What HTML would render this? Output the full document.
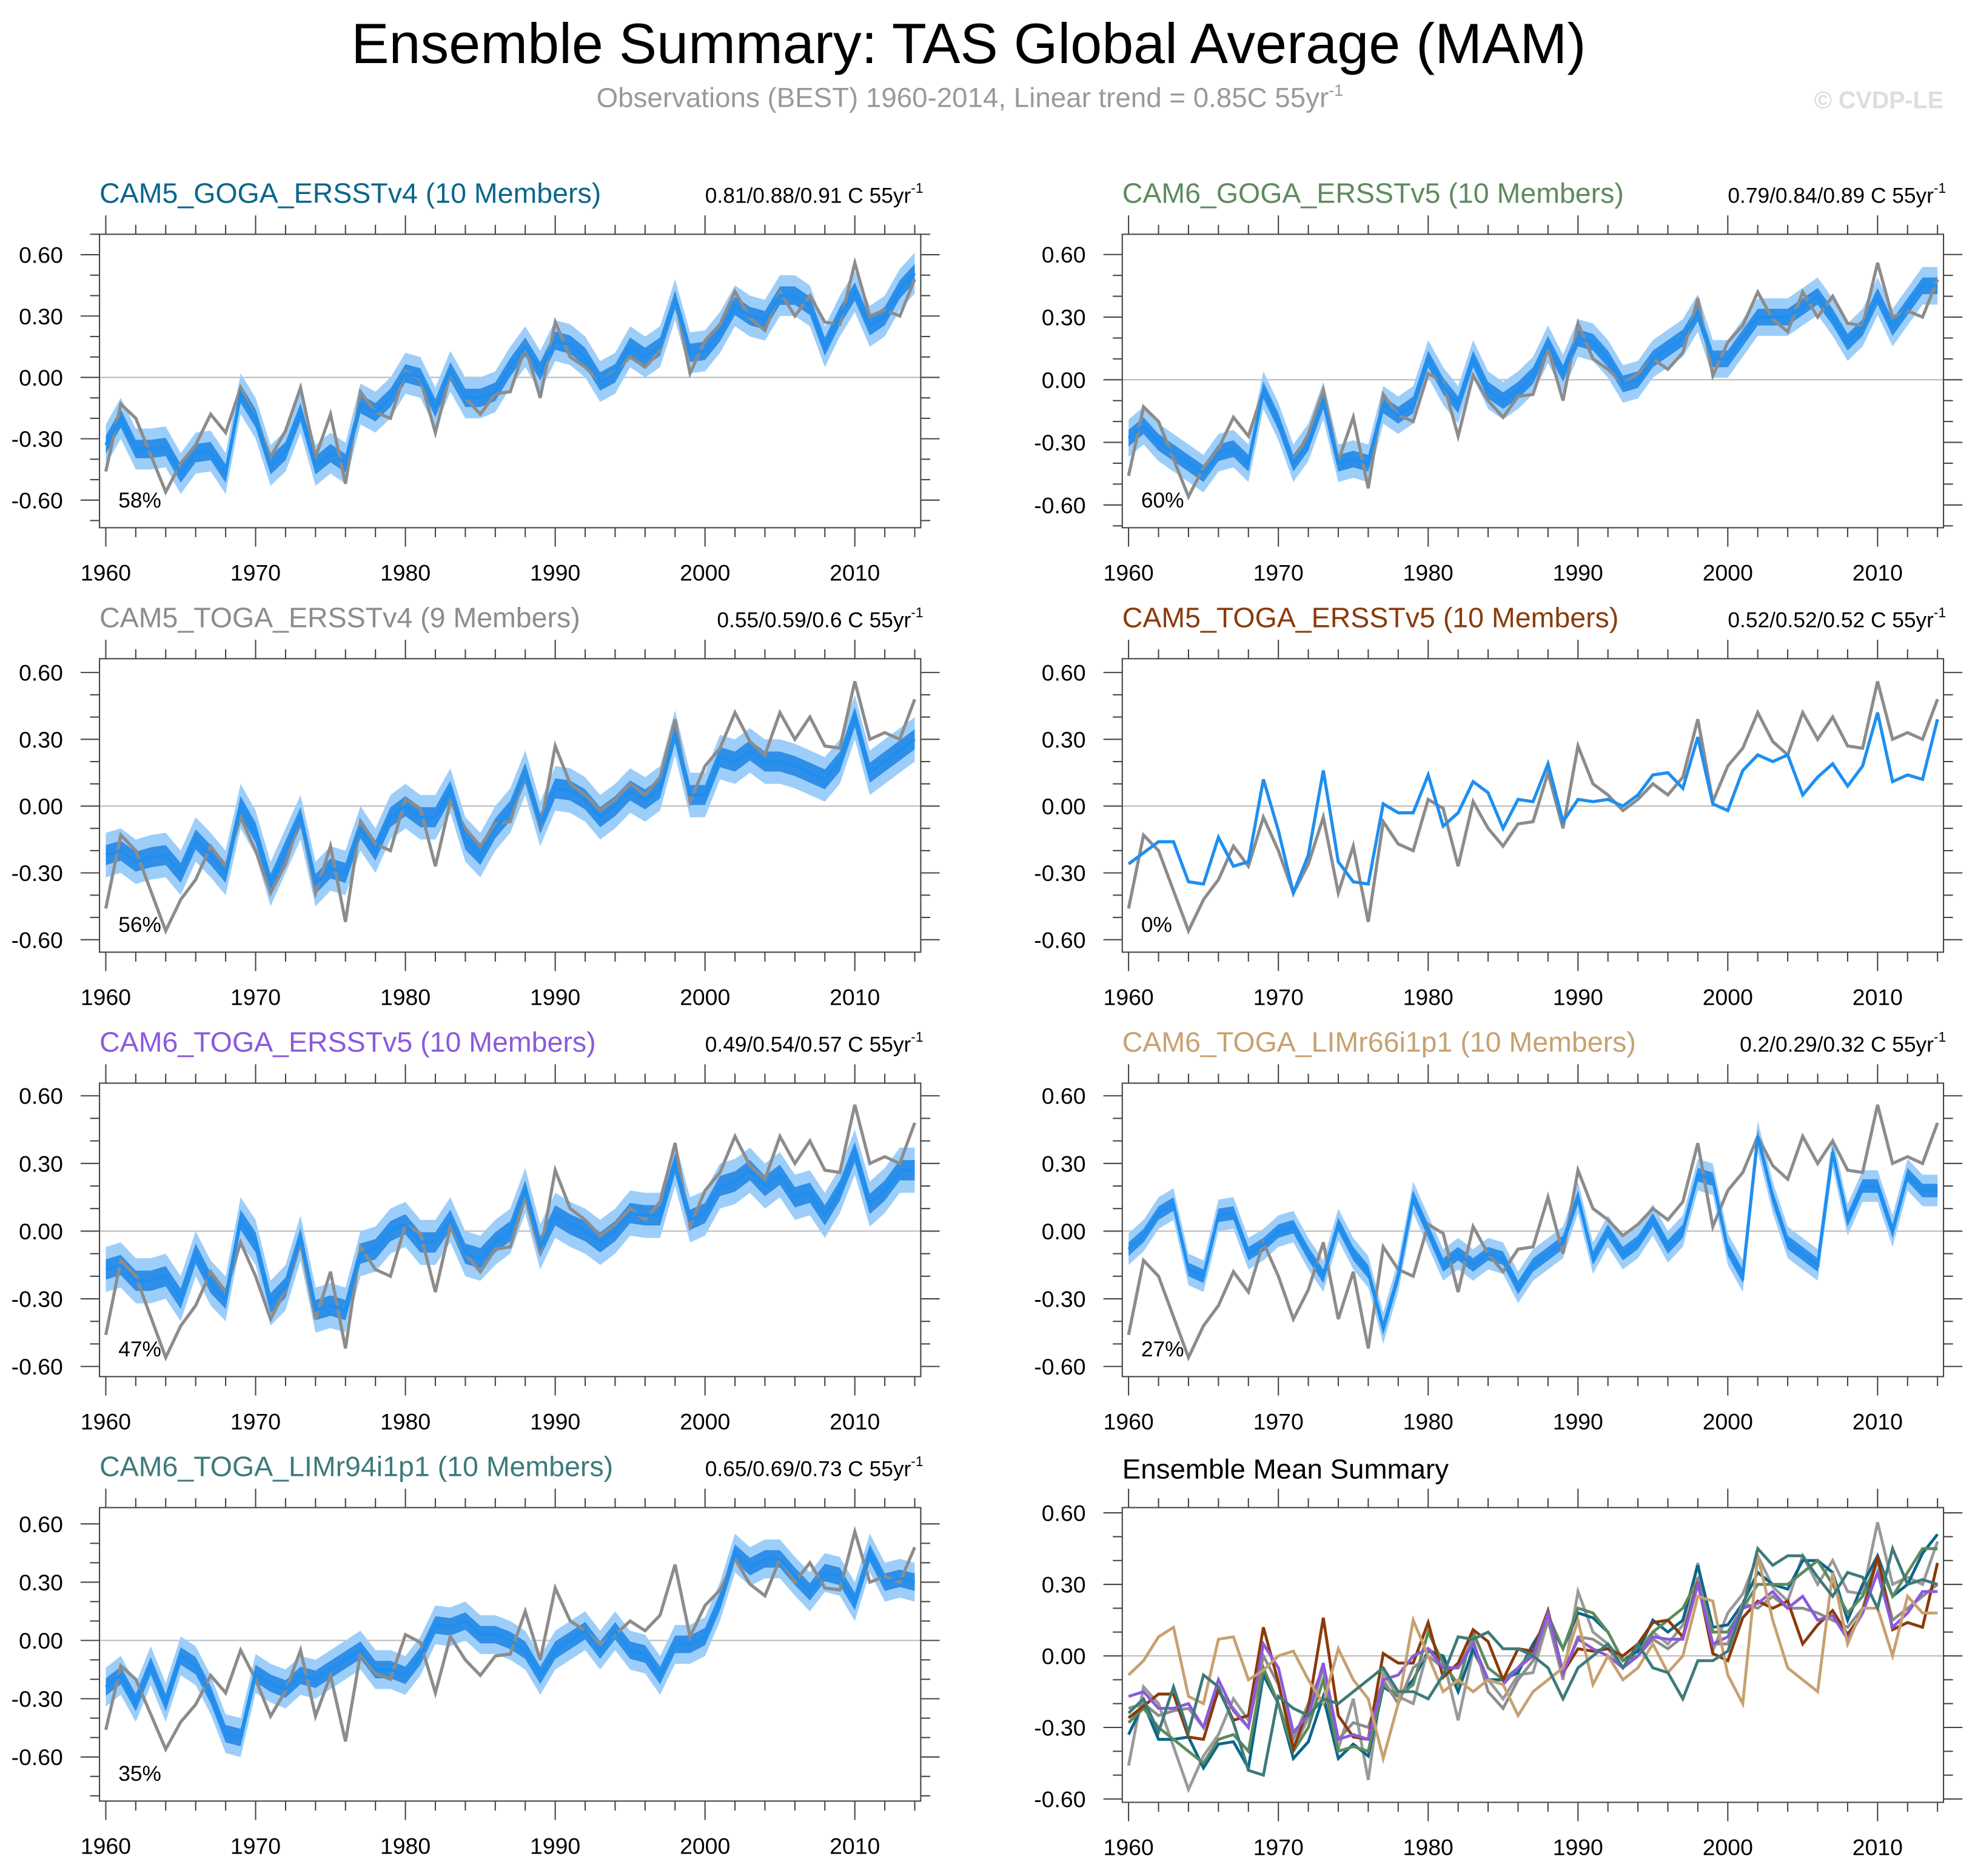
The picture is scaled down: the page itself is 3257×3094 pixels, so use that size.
<!DOCTYPE html>
<html><head><meta charset="utf-8">
<style>
html,body{margin:0;padding:0;background:#fff;}
svg{display:block;font-family:"Liberation Sans",Arial,sans-serif;}
</style></head>
<body>
<svg id="chart" width="3257" height="3094" viewBox="0 0 1568 1489.5" preserveAspectRatio="none" xmlns="http://www.w3.org/2000/svg">
<text x="769" y="50" font-size="45" text-anchor="middle" fill="#000">Ensemble Summary: TAS Global Average (MAM)</text>
<text x="770" y="85" font-size="22" text-anchor="middle" fill="#999">Observations (BEST) 1960-2014, Linear trend = 0.85C 55yr<tspan font-size="13" dy="-9">-1</tspan></text>
<text x="1543" y="86" font-size="19" font-weight="bold" text-anchor="end" fill="#ddd">© CVDP-LE</text>
</svg>
<script>
const years = [];
for (let y = 1960; y <= 2014; y++) years.push(y);
const obs = [-0.46,-0.13,-0.2,-0.38,-0.56,-0.42,-0.33,-0.18,-0.27,-0.05,-0.2,-0.39,-0.26,-0.05,-0.39,-0.18,-0.52,-0.07,-0.17,-0.2,0.03,-0.01,-0.27,0.02,-0.1,-0.18,-0.08,-0.07,0.15,-0.1,0.27,0.1,0.05,-0.02,0.03,0.1,0.05,0.13,0.39,0.02,0.18,0.26,0.42,0.29,0.23,0.42,0.3,0.4,0.27,0.26,0.56,0.3,0.33,0.3,0.48];
const m1 = [-0.33,-0.2,-0.35,-0.35,-0.34,-0.47,-0.37,-0.36,-0.47,-0.08,-0.2,-0.43,-0.36,-0.17,-0.43,-0.37,-0.42,-0.13,-0.17,-0.1,0.02,0.0,-0.15,0.03,-0.1,-0.1,-0.07,0.05,0.15,0.03,0.18,0.16,0.1,-0.02,0.02,0.15,0.1,0.15,0.38,0.12,0.13,0.22,0.35,0.3,0.28,0.4,0.4,0.35,0.15,0.3,0.42,0.25,0.3,0.43,0.51];
const m2 = [-0.28,-0.22,-0.3,-0.35,-0.4,-0.45,-0.35,-0.33,-0.4,-0.05,-0.2,-0.4,-0.3,-0.1,-0.4,-0.38,-0.4,-0.12,-0.17,-0.12,0.1,-0.03,-0.12,0.1,-0.05,-0.1,-0.05,0.02,0.17,0.03,0.2,0.18,0.1,-0.02,0.0,0.1,0.15,0.2,0.32,0.1,0.1,0.2,0.3,0.3,0.3,0.35,0.4,0.3,0.18,0.25,0.4,0.25,0.35,0.45,0.45];
const m3 = [-0.22,-0.2,-0.25,-0.23,-0.22,-0.3,-0.15,-0.22,-0.3,0.0,-0.12,-0.35,-0.2,-0.05,-0.35,-0.28,-0.3,-0.1,-0.2,-0.05,0.0,-0.05,-0.05,0.07,-0.15,-0.22,-0.1,-0.02,0.15,-0.08,0.08,0.07,0.03,-0.05,0.0,0.07,0.03,0.08,0.33,0.05,0.05,0.22,0.2,0.25,0.2,0.2,0.18,0.15,0.12,0.2,0.4,0.15,0.2,0.25,0.3];
const m4 = [-0.26,-0.21,-0.16,-0.16,-0.34,-0.35,-0.14,-0.27,-0.25,0.12,-0.11,-0.39,-0.22,0.16,-0.25,-0.34,-0.35,0.01,-0.03,-0.03,0.14,-0.09,-0.03,0.11,0.06,-0.1,0.03,0.02,0.19,-0.07,0.03,0.02,0.03,0.0,0.05,0.14,0.15,0.08,0.31,0.01,-0.02,0.16,0.23,0.2,0.23,0.05,0.13,0.19,0.09,0.18,0.42,0.11,0.14,0.12,0.39];
const m5 = [-0.17,-0.15,-0.22,-0.22,-0.2,-0.3,-0.1,-0.23,-0.3,0.05,-0.05,-0.32,-0.25,-0.03,-0.35,-0.33,-0.35,-0.1,-0.08,0.0,0.03,-0.05,-0.05,0.05,-0.1,-0.12,-0.05,0.0,0.18,-0.07,0.07,0.03,0.0,-0.05,0.0,0.08,0.07,0.07,0.3,0.05,0.08,0.2,0.22,0.27,0.2,0.25,0.15,0.17,0.07,0.18,0.35,0.12,0.18,0.27,0.27];
const m6 = [-0.08,-0.02,0.08,0.12,-0.17,-0.2,0.07,0.08,-0.1,-0.06,0.0,0.02,-0.1,-0.2,0.03,-0.1,-0.18,-0.43,-0.2,0.15,0.0,-0.15,-0.1,-0.15,-0.1,-0.12,-0.25,-0.15,-0.1,-0.05,0.15,-0.12,0.0,-0.1,-0.05,0.05,-0.07,0.0,0.25,0.23,-0.08,-0.2,0.42,0.15,-0.05,-0.1,-0.15,0.35,0.05,0.2,0.2,0.0,0.25,0.18,0.18];
const m7 = [-0.24,-0.18,-0.32,-0.13,-0.32,-0.08,-0.13,-0.28,-0.48,-0.5,-0.17,-0.22,-0.25,-0.18,-0.2,-0.15,-0.1,-0.05,-0.15,-0.15,-0.18,-0.08,0.08,0.07,0.1,0.03,0.03,0.0,-0.05,-0.18,-0.05,0.0,0.05,-0.05,0.05,-0.05,-0.07,-0.18,-0.02,-0.02,0.02,0.2,0.45,0.38,0.42,0.42,0.33,0.25,0.35,0.33,0.2,0.45,0.3,0.32,0.3];
const names = ["CAM5_GOGA_ERSSTv4 (10 Members)","CAM6_GOGA_ERSSTv5 (10 Members)","CAM5_TOGA_ERSSTv4 (9 Members)","CAM5_TOGA_ERSSTv5 (10 Members)","CAM6_TOGA_ERSSTv5 (10 Members)","CAM6_TOGA_LIMr66i1p1 (10 Members)","CAM6_TOGA_LIMr94i1p1 (10 Members)"];
const trends = ["0.81/0.88/0.91","0.79/0.84/0.89","0.55/0.59/0.6","0.52/0.52/0.52","0.49/0.54/0.57","0.2/0.29/0.32","0.65/0.69/0.73"];
const pcts = ["58%","60%","56%","0%","47%","27%","35%"];
const outerSpread = [0.1,0.09,0.1,0,0.1,0.07,0.1];
const innerSpread = [0.045,0.04,0.045,0,0.045,0.03,0.045];
const yTicks = [0.6,0.3,0,-0.3,-0.6];
const yTickLabels = ["0.60","0.30","0.00","-0.30","-0.60"];
const xTicks = [1960,1970,1980,1990,2000,2010];
const means = [m1,m2,m3,m4,m5,m6,m7];
const titleColors = ["#0a668c","#5d8a5d","#8c8c8c","#8b3a0a","#8a5adb","#c8a070","#3d7a7a"];

const NS = "http://www.w3.org/2000/svg";
const svg = document.getElementById('chart');
function el(tag, attrs, parent){const e=document.createElementNS(NS,tag);for(const k in attrs)e.setAttribute(k,attrs[k]);(parent||svg).appendChild(e);return e;}

// panel layout: [left, top, width, height, ymin, ymax]
const layout = [
 [79,186,652,233,-0.735,0.70],[891,186,652,233,-0.709,0.697],
 [79,523,652,233,-0.656,0.662],[891,523,652,233,-0.656,0.662],
 [79,860,652,233,-0.645,0.656],[891,860,652,233,-0.645,0.656],
 [79,1197,652,233,-0.827,0.684],[891,1197,652,234,-0.614,0.622]
];
const XMIN=1959.58, XMAX=2014.4;

function drawPanel(i){
  const [L,T,W,H,ymin,ymax]=layout[i];
  const g=el('g',{});
  
  
  const xs=v=>L+(v-XMIN)/(XMAX-XMIN)*W;
  const ys=v=>T+(ymax-v)/(ymax-ymin)*H;
  const z=el('line',{x1:L,x2:L+W,y1:ys(0),y2:ys(0),stroke:'#bbb','stroke-width':1},g);
  
  
  if(i<7){
    const m=means[i];
    if(outerSpread[i]>0){
      const band=(s,col,name)=>{
        let d='M'+years.map((y,k)=>xs(y)+','+ys(m[k]+s)).join('L');
        d+='L'+years.slice().reverse().map((y,k)=>xs(y)+','+ys(m[m.length-1-k]-s)).join('L')+'Z';
        const p=el('path',{d:d,fill:col,stroke:'none'},g);
        
        
      };
      band(outerSpread[i],'#9dcefa','ensemble-range-band');
      band(innerSpread[i],'#2f8fe8','ensemble-iqr-band');
    }
    const ol=el('polyline',{points:years.map((y,k)=>xs(y)+','+ys(obs[k])).join(' '),fill:'none',stroke:'#8c8c8c','stroke-width':2.5},g);
    
    
    const ml=el('polyline',{points:years.map((y,k)=>xs(y)+','+ys(m[k])).join(' '),fill:'none',stroke:'#1e8ff0','stroke-width':2.5},g);
    
    
    const t=el('text',{x:L,y:T-25,'font-size':22.4,fill:titleColors[i]},g);t.textContent=names[i];
    
    
    const tr=el('text',{x:L+W+2,y:T-25,'font-size':17,'text-anchor':'end',fill:'#000'},g);
    tr.textContent=trends[i]+' C 55yr';
    const sup=el('tspan',{'font-size':11,dy:-8},tr);sup.textContent='-1';
    
    
    const pc=el('text',{x:L+15,y:T+H-16,'font-size':17,fill:'#000'},g);pc.textContent=pcts[i];
    
    
  } else {
    const ol=el('polyline',{points:years.map((y,k)=>xs(y)+','+ys(obs[k])).join(' '),fill:'none',stroke:'#999','stroke-width':2.3},g);
    
    
    means.forEach((m,j)=>{
      const l=el('polyline',{points:years.map((y,k)=>xs(y)+','+ys(m[k])).join(' '),fill:'none',stroke:titleColors[j],'stroke-width':2.3},g);
      
      
    });
    const t=el('text',{x:L,y:T-23,'font-size':22,fill:'#000'},g);t.textContent='Ensemble Mean Summary';
    
    
  }
  const fr=el('rect',{x:L,y:T,width:W,height:H,fill:'none',stroke:'#444','stroke-width':1},g);
  
  
  for(let v=-0.8;v<=0.75;v+=0.1){
    const vv=Math.round(v*10)/10; if(vv<ymin||vv>ymax) continue;
    const major=Math.abs(Math.round(vv*10)%3)===0;
    const len=major?15:7.5;
    el('line',{x1:L,x2:L-len,y1:ys(vv),y2:ys(vv),stroke:'#444','stroke-width':1},g);
    el('line',{x1:L+W,x2:L+W+len,y1:ys(vv),y2:ys(vv),stroke:'#444','stroke-width':1},g);
  }
  yTicks.forEach((v,k)=>{
    const t=el('text',{x:L-29,y:ys(v)+6.5,'font-size':18,'text-anchor':'end',fill:'#000'},g);t.textContent=yTickLabels[k];
    
    
  });
  for(let y=1960;y<=2014;y+=2){
    const major=(y%10===0); const len=major?15:7.5;
    el('line',{x1:xs(y),x2:xs(y),y1:T+H,y2:T+H+len,stroke:'#444','stroke-width':1},g);
    el('line',{x1:xs(y),x2:xs(y),y1:T,y2:T-len,stroke:'#444','stroke-width':1},g);
  }
  xTicks.forEach(y=>{
    const t=el('text',{x:xs(y),y:T+H+42,'font-size':18,'text-anchor':'middle',fill:'#000'},g);t.textContent=y;
    
    
  });
}
for(let i=0;i<8;i++) drawPanel(i);
</script>
</body></html>
